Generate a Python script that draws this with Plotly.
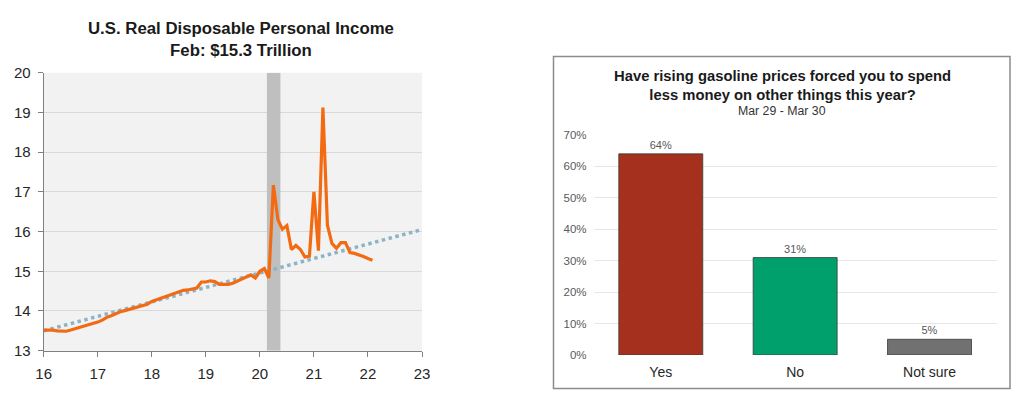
import plotly.graph_objects as go

W, H = 1024, 395
OFF = 8  # page body margin
FONT = "Liberation Sans, Arial, sans-serif"

# ---------------- Left chart data ----------------
# Monthly U.S. real disposable personal income, $ trillions, Jan 2016 - Feb 2022
income = [
    # 2016
    13.52, 13.53, 13.52, 13.50, 13.49, 13.49, 13.52, 13.55, 13.58, 13.61, 13.64, 13.67,
    # 2017
    13.72, 13.77, 13.84, 13.88, 13.94, 13.98, 14.01, 14.04, 14.06, 14.09, 14.12, 14.17,
    # 2018
    14.24, 14.28, 14.32, 14.36, 14.40, 14.45, 14.50, 14.52, 14.53, 14.55, 14.58, 14.73,
    # 2019
    14.73, 14.76, 14.74, 14.67, 14.66, 14.67, 14.70, 14.75, 14.79, 14.85, 14.91, 14.83,
    # 2020
    15.00, 15.07, 14.83, 17.17, 16.30, 16.06, 16.15, 15.55, 15.65, 15.55, 15.36, 15.38,
    # 2021
    17.00, 15.52, 19.12, 16.16, 15.70, 15.58, 15.72, 15.72, 15.47, 15.45, 15.42, 15.37,
    # 2022
    15.32, 15.28,
]
start_year = 16
years = [start_year + i / 12 for i in range(len(income))]

trend_x = [16, 23]
trend_y = [13.50, 16.05]

recession = [20.13, 20.38]

# ---------------- Right chart data ----------------
answers = ["Yes", "No", "Not sure"]
shares = [0.64, 0.31, 0.05]
bar_colors = ["#A5301D", "#00A06C", "#717171"]


def fx(px):
    return (px - OFF) / W


def fy(py):
    return (H - (py - OFF)) / H


fig = go.Figure()

# left chart
fig.add_trace(go.Scatter(
    x=trend_x, y=trend_y, mode="lines",
    line=dict(color="#8DB3C7", width=3.5, dash="dot"),
    xaxis="x", yaxis="y", hoverinfo="skip", showlegend=False))
fig.add_trace(go.Scatter(
    x=years, y=income, mode="lines",
    line=dict(color="#F26B12", width=3.2),
    xaxis="x", yaxis="y", showlegend=False))

# right chart
fig.add_trace(go.Bar(
    x=answers, y=shares,
    marker=dict(color=bar_colors, line=dict(color="#3a3a3a", width=0.8)),
    text=[f"{round(v*100)}%" for v in shares], textposition="outside",
    textfont=dict(size=11, color="#595959", family=FONT),
    cliponaxis=False,
    xaxis="x2", yaxis="y2", showlegend=False))

L_x0, L_x1 = fx(43.7), fx(422)
L_y0, L_y1 = fy(350.7), fy(72.7)
R_x0, R_x1 = fx(593.6), fx(996.7)
R_y0, R_y1 = fy(355), fy(135)

shapes = [
    # left plot background
    dict(type="rect", xref="paper", yref="paper", x0=L_x0, x1=L_x1, y0=L_y0, y1=L_y1,
         fillcolor="#F2F2F2", line=dict(width=0), layer="below"),
    # recession band
    dict(type="rect", xref="x", yref="y", x0=recession[0], x1=recession[1], y0=13, y1=20,
         fillcolor="#BFBFBF", line=dict(width=0), layer="between"),
    # right box
    dict(type="rect", xref="paper", yref="paper",
         x0=fx(553.5), x1=fx(1010), y0=fy(388.5), y1=fy(56.5),
         fillcolor="rgba(0,0,0,0)", line=dict(color="#8C8C8C", width=1.5), layer="below"),
]

annotations = [
    dict(xref="paper", yref="paper", x=fx(241), y=fy(40), xanchor="center", yanchor="middle",
         text="<b>U.S. Real Disposable Personal Income<br>Feb: $15.3 Trillion</b>",
         showarrow=False, font=dict(size=16.8, color="#1a1a1a", family=FONT)),
    dict(xref="paper", yref="paper", x=fx(782), y=fy(85), xanchor="center", yanchor="middle",
         text="<b>Have rising gasoline prices forced you to spend<br>less money on other things this year?</b>",
         showarrow=False, font=dict(size=14.8, color="#1a1a1a", family=FONT)),
    dict(xref="paper", yref="paper", x=fx(782), y=fy(111.5), xanchor="center", yanchor="middle",
         text="Mar 29 - Mar 30",
         showarrow=False, font=dict(size=12.3, color="#333333", family=FONT)),
]

fig.update_layout(
    width=W, height=H,
    autosize=False,
    margin=dict(l=0, r=0, t=0, b=0, pad=0, autoexpand=False),
    paper_bgcolor="white", plot_bgcolor="rgba(0,0,0,0)",
    font=dict(family=FONT),
    shapes=shapes, annotations=annotations,
    bargap=0.375,
    xaxis=dict(domain=[L_x0, L_x1], anchor="y", range=[16, 23], dtick=1, tick0=16,
               automargin=False,
               showgrid=False, zeroline=False, showline=True, linecolor="#808080", linewidth=1,
               ticks="outside", ticklen=5, tickcolor="#808080", ticklabelstandoff=4,
               tickfont=dict(size=15, color="#262626")),
    yaxis=dict(domain=[L_y0, L_y1], anchor="x", range=[13, 20], dtick=1,
               automargin=False,
               showgrid=True, gridcolor="#D9D9D9", gridwidth=1, zeroline=False,
               showline=True, linecolor="#808080", linewidth=1,
               ticks="outside", ticklen=5, tickcolor="#808080", ticklabelstandoff=4,
               tickfont=dict(size=15, color="#262626")),
    xaxis2=dict(domain=[R_x0, R_x1], anchor="y2", showgrid=False, zeroline=False, showline=False,
                automargin=False,
                ticks="", ticklabelstandoff=7, tickfont=dict(size=14, color="#262626")),
    yaxis2=dict(domain=[R_y0, R_y1], anchor="x2", range=[0, 0.7], dtick=0.1, tickformat=".0%",
                automargin=False,
                showgrid=True, gridcolor="#E6E6E6", gridwidth=1, zeroline=False, showline=False,
                ticks="", ticklabelstandoff=6, tickfont=dict(size=11.5, color="#595959")),
)

fig.write_html("out.html")
